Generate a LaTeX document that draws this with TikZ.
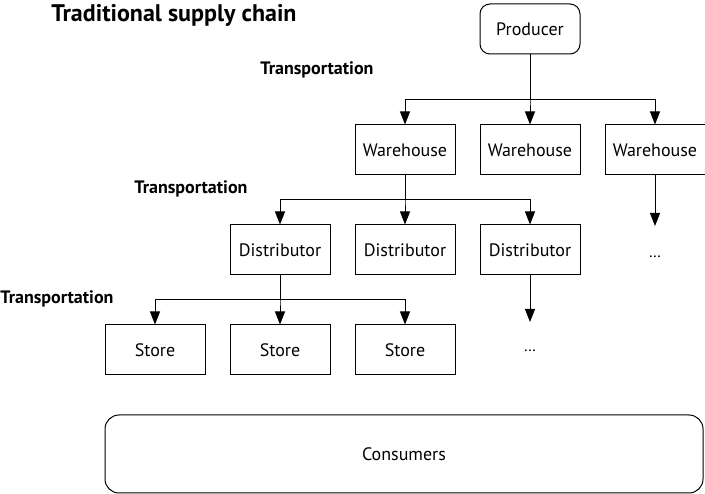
\documentclass[tikz,border=0pt]{standalone}
\usepackage{fontspec}
\setmainfont{PT Sans}
\usetikzlibrary{arrows.meta}

\tikzset{
  box/.style={draw,line width=1pt,minimum width=100pt,minimum height=50pt,inner sep=0pt,font=\fontsize{18}{21}\selectfont},
  roundbox/.style={box,rounded corners=10pt},
  label/.style={font=\bfseries\fontsize{18}{21}\selectfont,inner sep=0pt},
  arr/.style={line width=1pt,-{Triangle[length=13pt,width=10pt]}},
  more/.style={font=\fontsize{16}{19}\selectfont,inner sep=0pt}
}

\begin{document}
\begin{tikzpicture}[x=1pt,y=-1pt]
  \useasboundingbox (0,0) rectangle (705,494);

  \node[font=\bfseries\fontsize{24}{28}\selectfont,inner sep=0pt] (title) at (174,15) {Traditional supply chain};
  \node[label] (trans1) at (317,70)  {Transportation};
  \node[label] (trans2) at (191,189) {Transportation};
  \node[label] (trans3) at (57,299)  {Transportation};

  \node[roundbox] (producer) at (530,29) {Producer};
  \node[box] (wh1) at (405,150) {Warehouse};
  \node[box] (wh2) at (530,150) {Warehouse};
  \node[box] (wh3) at (655,150) {Warehouse};
  \node[box] (dist1) at (280,250) {Distributor};
  \node[box] (dist2) at (405,250) {Distributor};
  \node[box] (dist3) at (530,250) {Distributor};
  \node[box] (store1) at (155,350) {Store};
  \node[box] (store2) at (280,350) {Store};
  \node[box] (store3) at (405,350) {Store};
  \node[more] (more1) at (655,257) {\dots};
  \node[more] (more2) at (530,351) {\dots};
  \node[roundbox,rounded corners=14pt,minimum width=598pt,minimum height=78pt] (consumers) at (404,454) {Consumers};

  \coordinate (end1) at (655,226);
  \coordinate (end2) at (530,322);

  \foreach \to in {wh1,wh2,wh3}
    \draw[arr] (producer.south) |- ([yshift=25pt]\to.north) -- (\to.north);
  \foreach \to in {dist1,dist2,dist3}
    \draw[arr] (wh1.south) |- ([yshift=25pt]\to.north) -- (\to.north);
  \foreach \to in {store1,store2,store3}
    \draw[arr] (dist1.south) |- ([yshift=25pt]\to.north) -- (\to.north);

  \draw[arr] (wh3.south) -- (end1);
  \draw[arr] (dist3.south) -- (end2);

\end{tikzpicture}
\end{document}
